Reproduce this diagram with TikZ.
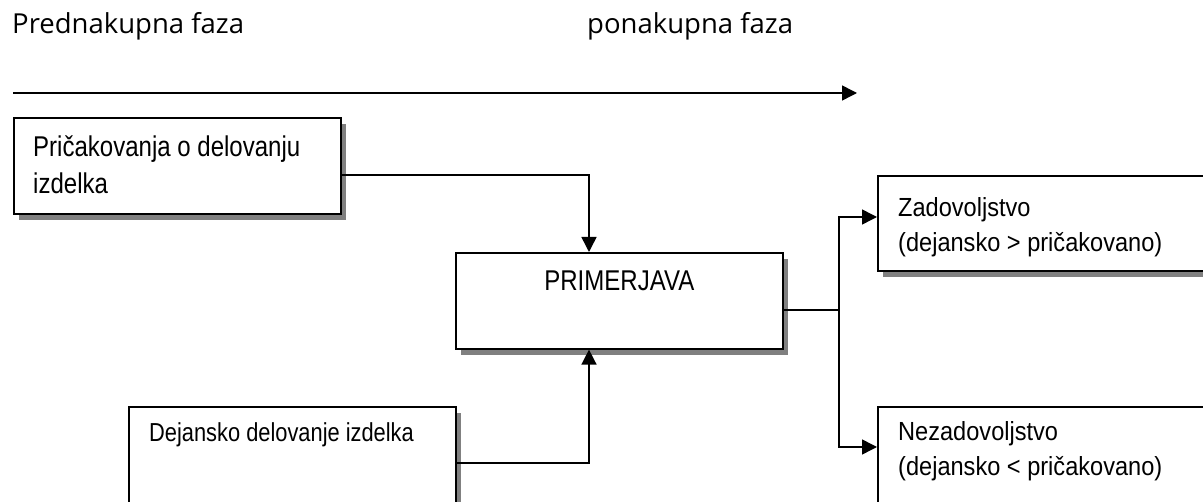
\documentclass[tikz,border=0pt]{standalone}
\usepackage{fontspec}
\setmainfont{Open Sans}
\newfontfamily\boxfont[FakeStretch=0.84]{Liberation Sans}
\newfontfamily\boxfontb[FakeStretch=0.90]{Liberation Sans}
\usetikzlibrary{arrows.meta,shadows,calc}
\begin{document}
\begin{tikzpicture}[x=1pt,y=-1pt,
  box/.style={draw, line width=1.6pt, fill=white, rectangle, inner sep=0pt, anchor=north west,
    general shadow={fill=black!50, shadow xshift=5pt, shadow yshift=-6pt}},
  conn/.style={line width=1.5pt},
  arr/.style={conn, -{Triangle[length=15pt,width=15pt]}},
  txt/.style={anchor=base west, inner sep=0pt, align=left},
  hdr/.style={txt, font=\fontsize{27.5}{32}\selectfont},
  bt1/.style={txt, font=\fontsize{28.6}{37}\boxfont},
  bt2/.style={txt, font=\fontsize{26.2}{35}\boxfontb},
]
\useasboundingbox (0,0) rectangle (1203,502);
\clip (0,0) rectangle (1203,502);

% header
\node[hdr] (h1) at (12,34) {Prednakupna faza};
\node[hdr] (h2) at (587,34) {ponakupna faza};
\coordinate (ts) at (13,93);
\coordinate (te) at (857,93);
\draw[arr] (ts) -- (te);

% boxes
\node[box, minimum width=327pt, minimum height=96pt] (b1) at (13,117) {};
\node[box, minimum width=327pt, minimum height=96pt] (prim) at (455,252) {};
\node[box, minimum width=327pt, minimum height=130pt] (dej) at (128,406) {};
\node[box, minimum width=345pt, minimum height=95pt] (zad) at (877,175) {};
\node[box, minimum width=345pt, minimum height=130pt] (nez) at (877,406) {};

% texts (base anchor = baseline of the last line)
\node[bt1] (t1) at (33,194) {Pričakovanja o delovanju\\izdelka};
\node[bt1, anchor=base] (tp) at ($(prim.north)+(0,39)$) {PRIMERJAVA};
\node[txt, font=\fontsize{26}{35}\boxfont] (td) at (149,442) {Dejansko delovanje izdelka};
\node[bt2] (tz) at (898,252) {Zadovoljstvo\\(dejansko > pričakovano)};
\node[bt2] (tn) at (898,476) {Nezadovoljstvo\\(dejansko < pričakovano)};

% connectors
\coordinate (c1) at (589,175);
\draw[arr] (b1.east |- c1) -- (c1) -- (prim.north -| c1);
\coordinate (c2) at (589,463);
\draw[arr] (dej.east |- c2) -- (c2) -- (prim.south -| c2);

\coordinate (br) at (839,310);
\coordinate (bt) at (839,217);
\coordinate (bb) at (839,447);
\draw[conn] (prim.east |- br) -- (br);
\draw[arr] (br) -- (bt) -- (zad.west |- bt);
\draw[arr] (br) -- (bb) -- (nez.west |- bb);
\end{tikzpicture}
\end{document}
